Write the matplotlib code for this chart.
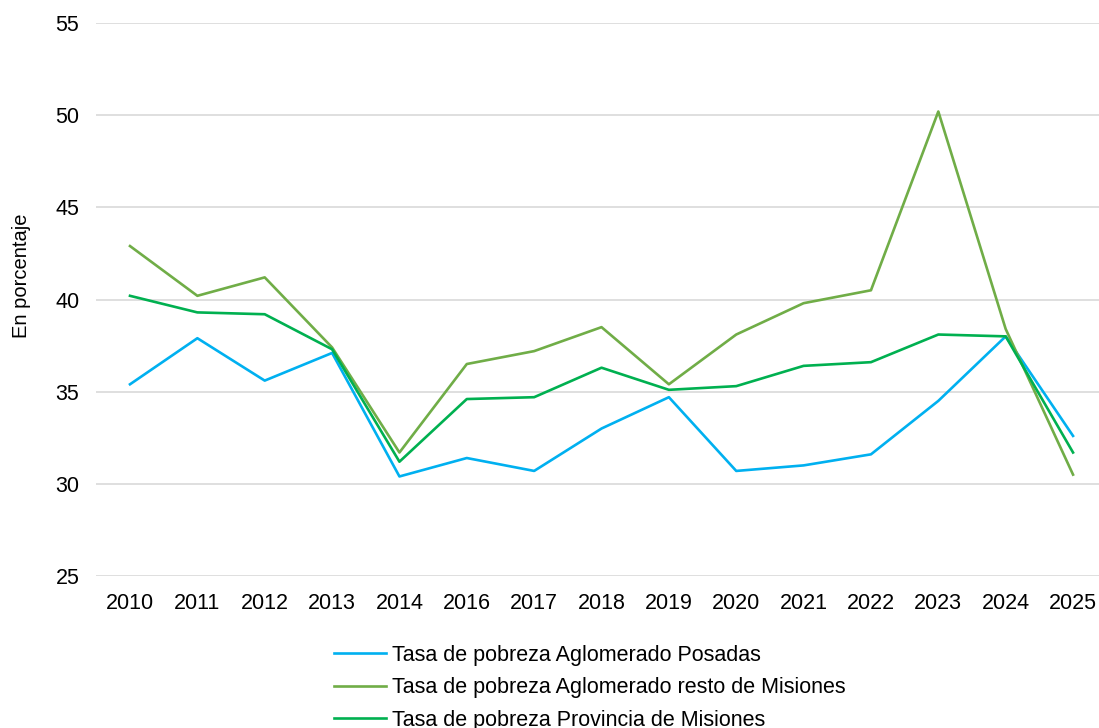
import numpy as np
import matplotlib.pyplot as plt

plt.rcParams['font.family'] = ['Liberation Sans', 'DejaVu Sans']

# Datos (en porcentaje)
anios = ["2010", "2011", "2012", "2013", "2014", "2016", "2017", "2018",
         "2019", "2020", "2021", "2022", "2023", "2024", "2025"]
posadas = [35.4, 37.9, 35.6, 37.1, 30.4, 31.4, 30.7, 33.0,
           34.7, 30.7, 31.0, 31.6, 34.5, 38.0, 32.6]
resto = [42.9, 40.2, 41.2, 37.4, 31.7, 36.5, 37.2, 38.5,
         35.4, 38.1, 39.8, 40.5, 50.2, 38.4, 30.5]
provincia = [40.2, 39.3, 39.2, 37.3, 31.2, 34.6, 34.7, 36.3,
             35.1, 35.3, 36.4, 36.6, 38.1, 38.0, 31.7]

W, H = 1099, 728
fig = plt.figure(figsize=(W / 100, H / 100), dpi=100)
ax = fig.add_axes([96 / W, (H - 576) / H, 1 - 96 / W, (576 - 23) / H])

x = np.arange(len(anios))
ax.plot(x, posadas, color="#00B0F0", lw=1.9, label="Tasa de pobreza Aglomerado Posadas")
ax.plot(x, resto, color="#70AD47", lw=1.9, label="Tasa de pobreza Aglomerado resto de Misiones")
ax.plot(x, provincia, color="#00B050", lw=1.9, label="Tasa de pobreza Provincia de Misiones")

step = 67.36
ax.set_xlim(-(130 - 96) / step, (W - 130) / step)
ax.set_ylim(25, 55)
ax.set_yticks(range(25, 56, 5))
ax.set_xticks(x)
ax.set_xticklabels(anios)
ax.tick_params(axis="both", length=0, labelsize=15.5)
ax.tick_params(axis="y", pad=12)
ax.tick_params(axis="x", pad=12)
ax.grid(axis="y", color="#D9D9D9", lw=1.2)
ax.set_axisbelow(True)
for s in ax.spines.values():
    s.set_visible(False)

fig.text(22 / W, (H - 276) / H, "En porcentaje", rotation=90, fontsize=14.5,
         ha="center", va="center")

fig.legend(loc="upper left", bbox_to_anchor=(334 / W, (H - 645) / H),
           frameon=False, fontsize=15.5, handlelength=2.4, handletextpad=0.3,
           labelspacing=0.53, borderpad=0, borderaxespad=0)

fig.savefig("out.png", dpi=100)
